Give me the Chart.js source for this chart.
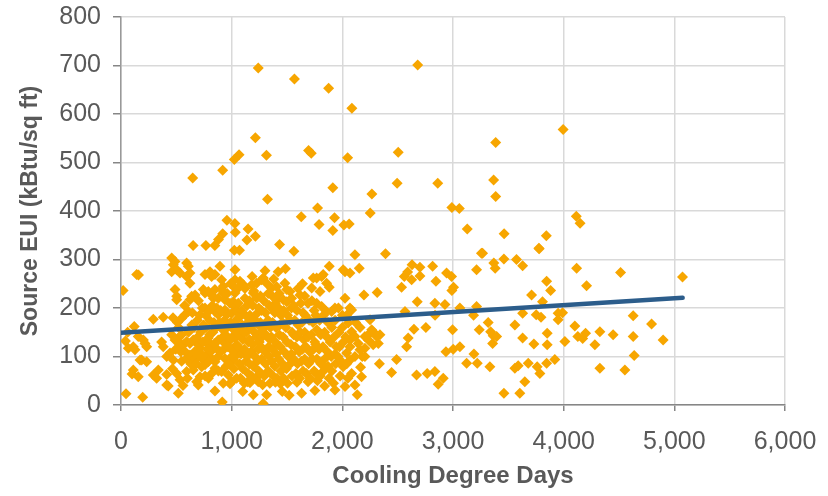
<!DOCTYPE html>
<html>
<head>
<meta charset="utf-8">
<script src="https://cdn.jsdelivr.net/npm/chart.js@4.4.1/dist/chart.umd.min.js"></script>
<style>
  html, body { margin: 0; padding: 0; background: #ffffff; }
  #wrap { width: 828px; height: 496px; }
</style>
</head>
<body>
<div id="wrap"><canvas id="c" width="828" height="496"></canvas></div>
<script>
// ---- Data (Cooling Degree Days vs Source EUI) ----
const xTickLabels = ['0', '1,000', '2,000', '3,000', '4,000', '5,000', '6,000'];
const yTickLabels = ['0', '100', '200', '300', '400', '500', '600', '700', '800'];
const xAxisTitle = 'Cooling Degree Days';
const yAxisTitle = 'Source EUI (kBtu/sq ft)';

// trend line end points [CDD, EUI]
const trendLine = [[0, 149], [5075, 221]];

// high outliers (EUI >= ~300)
const highOutliers = [
  [1240,695],[1567,672],[1876,653],[2086,612],[2681,701],[1214,551],[648,468],[919,484],
  [1024,506],[1067,516],[1314,515],[1695,525],[1719,519],[2048,510],[2505,521],[2495,457],
  [2862,457],[3386,541],[3995,568],[3367,464],[3386,430],[1914,448],[2267,435],[1324,424],
  [1776,406],[1629,388],[1929,386],[1790,372],[1914,360],[2014,371],[2062,373],[2252,396],
  [2990,407],[3057,405],[3129,363],[3462,353],[4114,389],[4148,375],[3843,349],[3776,323],
  [3257,313],[2390,312],[2114,310],[1562,317],[1433,331],[957,381],[1029,374],[1033,356],
  [1148,363],[1138,340],[1214,348],[1024,319],[1071,319],[652,329],[767,329],[848,329],
  [919,353],[881,341],[3460,301],[3574,300]
];

// low CDD (west) points
const westPoints = [
  [19,236],[142,269],[158,268],[120,162],[292,177],[382,181],[40,132],[66,117],[111,120],
  [126,114],[156,141],[202,134],[232,120],[217,127],[187,93],[232,89],[172,93],[111,72],
  [100,64],[156,58],[292,62],[322,55],[337,72],[413,63],[413,41],[45,23],[196,16],[382,120],
  [367,130],[427,39],[413,100],[443,107],[60,150]
];

// dense core cluster, 450 - 1250 CDD
const coreWest = [
  [458,303],[488,296],[473,289],[503,279],[458,275],[533,272],[488,238],[503,224],[503,217],
  [458,145],[488,134],[518,138],[533,127],[548,145],[473,93],[503,65],[533,52],[548,90],
  [518,24],[470,180],[520,160],[495,115],[540,110],[465,75],[510,170],
  [593,293],[608,286],[623,272],[593,265],[623,251],[639,224],[623,217],[578,186],[608,193],
  [548,179],[563,124],[593,131],[623,127],[593,96],[623,103],[593,69],[560,40],[610,150],
  [640,165],[580,110],[630,85],[600,55],[645,190],[575,205],
  [669,227],[653,134],[684,138],[698,124],[714,117],[669,96],[698,100],[744,93],[653,72],
  [684,48],[714,58],[729,79],[698,41],[744,238],[660,160],[690,175],[720,150],[735,200],
  [700,215],[665,110],[740,130],[680,85],[725,105],[710,185],[745,165],
  [759,269],[804,275],[819,265],[759,231],[789,234],[819,227],[834,220],[849,238],[759,200],
  [804,196],[849,193],[759,131],[789,138],[819,124],[849,127],[774,103],[819,96],[849,89],
  [759,83],[789,89],[819,65],[849,76],[849,29],[770,160],[800,175],[830,150],[780,115],
  [810,110],[840,170],[790,55],[765,185],[825,205],[800,145],[760,60],[849,269],
  [894,286],[909,258],[924,245],[909,238],[924,231],[879,220],[939,217],[879,186],[939,196],
  [879,134],[909,138],[939,127],[879,100],[939,96],[909,69],[924,45],[915,6],[860,160],
  [890,170],[920,155],[870,115],[900,110],[935,175],[945,145],[880,70],[950,80],[930,115],
  [865,200],[900,195],
  [1030,279],[1030,258],[1015,245],[985,210],[1015,213],[1030,203],[955,186],[1000,189],
  [1045,193],[985,134],[1030,138],[1045,124],[1000,100],[1015,93],[1045,103],[970,62],
  [1000,48],[1045,55],[1030,231],[960,160],[990,170],[1020,155],[1040,175],[965,120],
  [995,115],[1035,110],[975,85],[1020,75],[960,230],[990,250],[1005,140],[1050,150],[985,44],
  [1075,255],[1105,248],[1060,241],[1100,28],[1060,210],[1090,195],[1120,220],[1140,205],
  [1065,180],[1095,165],[1125,185],[1145,170],[1070,145],[1100,135],[1130,150],[1150,130],
  [1060,120],[1085,105],[1115,115],[1140,100],[1070,85],[1100,75],[1130,90],[1150,65],
  [1080,55],[1115,45],[1145,48],[1060,160],[1110,150],[1120,240],
  [1181,248],[1195,231],[1226,251],[1195,21],[1160,215],[1190,205],[1225,220],[1245,200],
  [1165,185],[1200,178],[1235,190],[1170,160],[1205,150],[1240,165],[1160,135],[1190,125],
  [1220,140],[1250,130],[1175,110],[1210,100],[1240,115],[1160,85],[1195,80],[1230,90],
  [1180,60],[1215,55],[1245,70],[1165,46],[1240,48],[1200,235],[1185,265]
];

// dense core cluster, 1250 - 2200 CDD
const coreEast = [
  [1271,258],[1286,262],[1301,277],[1285,3],[1316,21],[1260,225],[1290,215],[1330,230],
  [1270,195],[1305,190],[1340,205],[1260,170],[1295,160],[1330,175],[1275,140],[1310,145],
  [1345,135],[1265,120],[1300,110],[1335,120],[1270,95],[1305,85],[1340,100],[1260,65],
  [1295,60],[1330,70],[1280,42],[1345,45],[1320,250],[1265,150],[1350,160],
  [1361,241],[1407,244],[1407,217],[1366,225],[1395,210],[1430,230],[1360,200],[1390,190],
  [1425,200],[1445,185],[1370,170],[1400,160],[1435,165],[1360,140],[1395,130],[1430,145],
  [1370,115],[1405,105],[1440,120],[1360,90],[1390,80],[1425,95],[1375,60],[1410,55],
  [1445,70],[1395,47],[1440,44],[1380,260],[1420,275],
  [1481,251],[1497,238],[1527,234],[1466,217],[1497,213],[1486,281],[1457,28],[1470,195],
  [1505,185],[1540,200],[1460,170],[1490,160],[1525,175],[1545,150],[1465,140],[1500,130],
  [1535,125],[1475,110],[1510,100],[1540,105],[1460,85],[1495,75],[1530,85],[1470,55],
  [1505,45],[1545,60],[1520,20],
  [1617,227],[1542,220],[1632,24],[1560,205],[1590,195],[1625,210],[1645,190],[1570,175],
  [1600,165],[1635,170],[1560,145],[1590,140],[1620,150],[1650,135],[1575,120],[1610,110],
  [1640,115],[1560,95],[1595,85],[1630,90],[1580,65],[1615,55],[1645,70],[1590,47],
  [1600,240],[1640,250],
  [1723,241],[1737,262],[1752,30],[1660,225],[1690,210],[1725,215],[1745,195],[1665,185],
  [1700,175],[1735,170],[1660,150],[1690,140],[1720,145],[1750,130],[1670,120],[1705,110],
  [1740,115],[1660,95],[1695,85],[1730,95],[1675,65],[1710,55],[1745,70],[1690,48],
  [1768,262],[1768,210],[1798,234],[1813,203],[1813,265],[1827,269],[1840,39],[1760,185],
  [1795,175],[1830,185],[1770,155],[1805,145],[1840,150],[1760,125],[1790,115],[1825,120],
  [1770,95],[1805,85],[1840,95],[1765,65],[1800,60],[1830,70],[1775,50],
  [1858,251],[1858,193],[1882,286],[1882,243],[1903,193],[1933,200],[1933,31],[1870,170],
  [1905,160],[1935,175],[1860,140],[1890,130],[1925,140],[1945,120],[1865,110],[1900,100],
  [1935,105],[1870,80],[1905,70],[1940,85],[1880,55],[1920,45],
  [2008,279],[2024,275],[2069,272],[2024,220],[2069,200],[2053,169],[2084,151],[2069,134],
  [2069,120],[2039,107],[2069,93],[2008,79],[2084,65],[2024,38],[1970,150],[2000,160],
  [2030,140],[1975,120],[2010,130],[1960,100],[1990,90],[2040,85],[1980,60],[2050,55],
  [1965,200],[2000,185],[2040,185],[2084,196],
  [2114,141],[2114,100],[2114,41],[2135,21],[2144,127],[2153,282],[2159,114],[2165,78],
  [2174,58],[2195,227],[2204,141],[2204,117],[2160,160],[2120,170],[2180,100],[2204,100]
];

// higher CDD spread (east)
const eastPoints = [
  [2250,148],[2250,176],[2265,155],[2220,141],[2235,134],[2279,151],[2279,124],[2310,141],
  [2325,127],[2340,145],[2335,85],[2315,232],[2445,67],[2490,94],[2581,120],[2595,138],
  [2647,156],[2755,160],[2677,213],[2566,193],[2535,243],[2560,265],[2590,274],[2626,258],
  [2630,289],[2701,284],[2701,266],[2816,286],[2846,255],[2942,272],[2987,265],[3005,243],
  [2990,236],[2996,155],[2936,110],[3002,115],[3062,120],[3123,86],[3219,86],[3189,105],
  [3333,79],[3460,24],[3604,24],[2671,62],[2767,65],[2836,69],[2866,43],[2912,55],
  [2836,210],[2838,185],[2927,207],[3062,200],[3213,279],[3267,313],[3369,293],[3381,282],
  [3629,287],[3779,322],[3846,255],[3882,236],[3710,227],[3809,213],[4117,282],[4207,246],
  [3213,203],[3186,185],[3237,155],[3318,170],[3340,151],[3363,143],[3394,141],[3358,127],
  [3559,165],[3629,189],[3629,138],[3731,126],[3752,186],[3795,181],[3851,148],[3851,124],
  [3950,189],[3990,190],[3950,176],[4011,131],[4101,163],[4128,141],[4172,137],[4198,148],
  [3559,76],[3589,81],[3649,48],[3680,86],[3761,79],[3785,65],[3846,86],[3920,94],
  [4514,273],[5074,264],[4628,184],[4794,167],[4899,134],[4327,151],[4282,124],[4447,145],
  [4628,141],[4637,102],[4327,76],[4553,72]
];

const allSamples = [].concat(highOutliers, westPoints, coreWest, coreEast, eastPoints);

// ---- Chart ----
const FONT = "'Liberation Sans', Arial, sans-serif";
const TEXT = '#595959';

new Chart(document.getElementById('c'), {
  type: 'scatter',
  data: {
    datasets: [
      {
        label: 'Trend',
        data: trendLine.map(p => ({ x: p[0], y: p[1] })),
        showLine: true,
        borderColor: '#2C5D8B',
        borderWidth: 4.5,
        borderCapStyle: 'round',
        pointRadius: 0,
        pointHoverRadius: 0,
        order: 0
      },
      {
        label: 'Buildings',
        data: allSamples.map(p => ({ x: p[0], y: p[1] })),
        pointStyle: 'rectRot',
        pointRadius: 5.5,
        pointHoverRadius: 5.5,
        backgroundColor: '#F7A600',
        borderColor: '#F7A600',
        borderWidth: 0,
        order: 1
      }
    ]
  },
  options: {
    responsive: false,
    animation: false,
    events: [],
    layout: { padding: { left: 0, right: 43, top: 17, bottom: 0 } },
    plugins: { legend: { display: false }, tooltip: { enabled: false } },
    scales: {
      x: {
        type: 'linear',
        min: 0, max: 6000,
        afterFit: s => { s.height = 91; s.paddingLeft = 0; s.paddingRight = 0; },
        ticks: {
          stepSize: 1000,
          color: TEXT,
          padding: 16,
          maxRotation: 0,
          font: { family: FONT, size: 25 },
          callback: (v, i) => xTickLabels[i]
        },
        grid: { color: '#D9D9D9', lineWidth: 1.5, tickLength: 6, tickColor: '#868686' },
        border: { color: '#868686', width: 1.5 },
        title: {
          display: true, text: xAxisTitle, color: TEXT,
          font: { family: FONT, size: 24, weight: 'bold' },
          padding: { top: 0, bottom: 5 }
        }
      },
      y: {
        type: 'linear',
        min: 0, max: 800,
        afterFit: s => { s.width = 121; s.paddingTop = 0; s.paddingBottom = 0; },
        ticks: {
          stepSize: 100,
          color: TEXT,
          padding: 12,
          font: { family: FONT, size: 25 },
          callback: (v, i) => yTickLabels[i]
        },
        grid: { color: '#D9D9D9', lineWidth: 1.5, tickLength: 8, tickColor: '#868686' },
        border: { color: '#999999', width: 1.5 },
        title: {
          display: true, text: yAxisTitle, color: TEXT,
          font: { family: FONT, size: 23, weight: 'bold' },
          padding: { top: 17, bottom: 0 }
        }
      }
    }
  }
});
</script>
</body>
</html>
